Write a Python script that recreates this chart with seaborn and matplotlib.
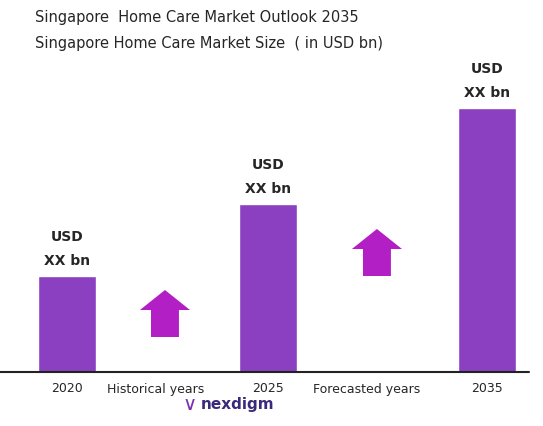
import matplotlib
matplotlib.use("Agg")
import matplotlib.pyplot as plt
import seaborn as sns
import pandas as pd

years = ["2020", "2025", "2035"]
values = [96, 168, 264]
labels = ["USD\nXX bn", "USD\nXX bn", "USD\nXX bn"]
positions = [0, 1, 2.09]

sns.set_style("white")
plt.rcParams['font.family'] = ['DejaVu Sans']
fig = plt.figure(figsize=(5.43, 4.26), dpi=100)
ax = fig.add_axes([0, 0, 1, 1])
df = pd.DataFrame({"pos": positions, "val": values})
sns.barplot(data=df, x="pos", y="val", native_scale=True, width=0.29, color="#8a40c0", saturation=1, ax=ax)
ax.set_xlim(-0.333, 2.368)
ax.set_ylim(-54, 372)
ax.axis("off")
ax.plot([-0.333, 2.3], [0, 0], color="#222222", lw=1.5)
for p, v, l, y in zip(positions, values, labels, years):
    ax.text(p, v + 8, l, ha="center", va="bottom", fontsize=10, fontweight="bold", linespacing=1.9)
    ax.text(p, -17, y, ha="center", va="center", fontsize=9)
ax.text(0.44, -17, "Historical years", ha="center", va="center", fontsize=9)
ax.text(1.49, -17, "Forecasted years", ha="center", va="center", fontsize=9)
for cx, y0 in [(0.4876, 35), (1.542, 96)]:
    ax.arrow(cx, y0, 0, 27, width=0.139, head_width=0.249, head_length=20,
             length_includes_head=False, color="#b21fc4", lw=0)
fig.text(0.065, 0.958, "Singapore  Home Care Market Outlook 2035", fontsize=10.5, va="center")
fig.text(0.065, 0.899, "Singapore Home Care Market Size  ( in USD bn)", fontsize=10.5, va="center")
fig.text(0.35, 0.05, "\u2228", fontsize=14, color="#7a2fb0", va="center", ha="center")
fig.text(0.37, 0.05, "nexdigm", fontsize=11, color="#3a2a7a", va="center", fontweight="bold")
fig.savefig("out.png", dpi=100)
